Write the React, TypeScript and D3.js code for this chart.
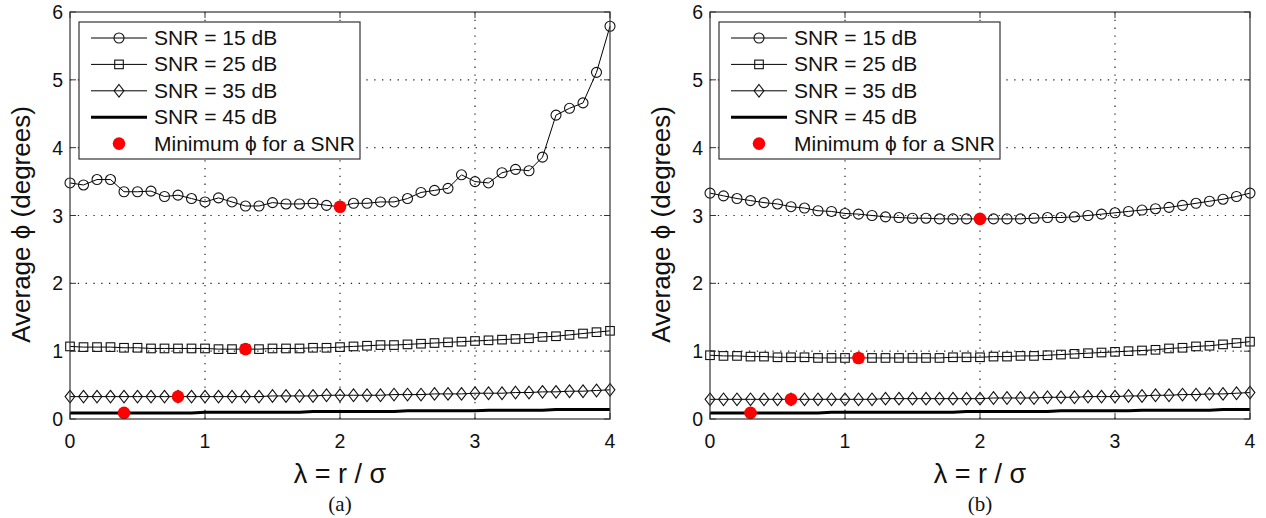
import React from "react";
import * as d3 from "d3";

const lambdaValues: number[] = d3.range(0, 41).map((i) => i / 10);

// Panel (a)
const a_snr15 = [3.48, 3.45, 3.53, 3.53, 3.35, 3.35, 3.36, 3.28, 3.3, 3.25, 3.2, 3.26, 3.2, 3.14, 3.14, 3.19, 3.17, 3.17, 3.18, 3.15, 3.13, 3.18, 3.18, 3.2, 3.2, 3.25, 3.34, 3.37, 3.4, 3.6, 3.5, 3.48, 3.63, 3.68, 3.66, 3.86, 4.48, 4.58, 4.66, 5.11, 5.79];
const a_snr25 = [1.07, 1.06, 1.06, 1.06, 1.05, 1.05, 1.04, 1.04, 1.04, 1.04, 1.04, 1.03, 1.03, 1.03, 1.03, 1.04, 1.04, 1.04, 1.05, 1.05, 1.06, 1.07, 1.08, 1.09, 1.09, 1.1, 1.11, 1.12, 1.13, 1.14, 1.15, 1.16, 1.17, 1.18, 1.19, 1.21, 1.22, 1.24, 1.26, 1.28, 1.3];
const a_snr35 = [0.33, 0.33, 0.33, 0.33, 0.33, 0.33, 0.33, 0.33, 0.33, 0.33, 0.33, 0.33, 0.33, 0.33, 0.33, 0.34, 0.34, 0.34, 0.34, 0.35, 0.35, 0.35, 0.35, 0.35, 0.36, 0.36, 0.36, 0.37, 0.37, 0.37, 0.38, 0.38, 0.38, 0.39, 0.39, 0.4, 0.4, 0.41, 0.41, 0.42, 0.43];
const a_snr45 = [0.09, 0.09, 0.09, 0.09, 0.09, 0.09, 0.09, 0.09, 0.09, 0.09, 0.1, 0.1, 0.1, 0.1, 0.1, 0.1, 0.1, 0.1, 0.11, 0.11, 0.11, 0.11, 0.11, 0.11, 0.11, 0.12, 0.12, 0.12, 0.12, 0.12, 0.12, 0.13, 0.13, 0.13, 0.13, 0.13, 0.14, 0.14, 0.14, 0.14, 0.14];
const a_minimaX = [2.0, 1.3, 0.8, 0.4];
const a_minimaY = [3.13, 1.03, 0.33, 0.09];

// Panel (b)
const b_snr15 = [3.33, 3.29, 3.25, 3.22, 3.19, 3.17, 3.13, 3.11, 3.07, 3.06, 3.03, 3.02, 3.0, 2.98, 2.97, 2.96, 2.96, 2.95, 2.95, 2.95, 2.95, 2.95, 2.95, 2.95, 2.96, 2.97, 2.97, 2.98, 3.0, 3.02, 3.04, 3.06, 3.08, 3.1, 3.12, 3.15, 3.18, 3.21, 3.24, 3.28, 3.33];
const b_snr25 = [0.94, 0.93, 0.93, 0.92, 0.92, 0.91, 0.91, 0.91, 0.9, 0.9, 0.9, 0.9, 0.9, 0.9, 0.9, 0.9, 0.9, 0.9, 0.91, 0.91, 0.91, 0.92, 0.92, 0.93, 0.93, 0.94, 0.95, 0.96, 0.97, 0.98, 0.99, 1.0, 1.01, 1.02, 1.04, 1.05, 1.07, 1.08, 1.1, 1.12, 1.14];
const b_snr35 = [0.29, 0.29, 0.29, 0.29, 0.29, 0.29, 0.29, 0.29, 0.29, 0.29, 0.29, 0.29, 0.29, 0.3, 0.3, 0.3, 0.3, 0.3, 0.3, 0.3, 0.3, 0.31, 0.31, 0.31, 0.31, 0.32, 0.32, 0.32, 0.33, 0.33, 0.33, 0.34, 0.34, 0.35, 0.35, 0.36, 0.36, 0.37, 0.37, 0.38, 0.39];
const b_snr45 = [0.09, 0.09, 0.09, 0.09, 0.09, 0.09, 0.09, 0.09, 0.09, 0.1, 0.1, 0.1, 0.1, 0.1, 0.1, 0.1, 0.1, 0.1, 0.1, 0.11, 0.11, 0.11, 0.11, 0.11, 0.11, 0.11, 0.12, 0.12, 0.12, 0.12, 0.12, 0.12, 0.13, 0.13, 0.13, 0.13, 0.13, 0.13, 0.14, 0.14, 0.14];
const b_minimaX = [2.0, 1.1, 0.6, 0.3];
const b_minimaY = [2.95, 0.9, 0.29, 0.09];

const xTicks = [0, 1, 2, 3, 4];
const yTicks = [0, 1, 2, 3, 4, 5, 6];
const legendLabels = ["SNR = 15 dB", "SNR = 25 dB", "SNR = 35 dB", "SNR = 45 dB", "Minimum \u03D5 for a SNR"];
const panelCaptions = ["(a)", "(b)"];

const FONT = "'Liberation Sans', Arial, Helvetica, sans-serif";
const AXIS = "#333";

type PanelProps = {
  x0: number;
  s15: number[];
  s25: number[];
  s35: number[];
  s45: number[];
  minX: number[];
  minY: number[];
  caption: string;
};

const Marker = ({ kind, cx, cy }: { kind: string; cx: number; cy: number }) => {
  if (kind === "circle")
    return <circle cx={cx} cy={cy} r={5} fill="none" stroke="#111" strokeWidth={1.1} />;
  if (kind === "square")
    return <rect x={cx - 4.3} y={cy - 4.3} width={8.6} height={8.6} fill="none" stroke="#111" strokeWidth={1.1} />;
  if (kind === "diamond")
    return (
      <path
        d={`M${cx},${cy - 6.3}L${cx + 4.9},${cy}L${cx},${cy + 6.3}L${cx - 4.9},${cy}Z`}
        fill="none"
        stroke="#111"
        strokeWidth={1.1}
      />
    );
  return null;
};

const Panel = ({ x0, s15, s25, s35, s45, minX, minY, caption }: PanelProps) => {
  const left = x0;
  const right = x0 + 540;
  const top = 12;
  const bottom = 419;
  const x = d3.scaleLinear().domain([0, 4]).range([left, right]);
  const y = d3.scaleLinear().domain([0, 6]).range([bottom, top]);
  const line = d3
    .line<number>()
    .x((_, i) => x(lambdaValues[i]))
    .y((d) => y(d));

  const series = [
    { data: s15, kind: "circle", w: 1 },
    { data: s25, kind: "square", w: 1 },
    { data: s35, kind: "diamond", w: 1 },
    { data: s45, kind: "none", w: 3 },
  ];

  const legX = left + 9;
  const legY = 22;
  const legW = 281;
  const legH = 137;
  const rowY = (i: number) => legY + 16 + i * 26.4;

  return (
    <g>
      {/* grid */}
      {xTicks.slice(1, -1).map((t) => (
        <line key={"gx" + t} x1={x(t)} x2={x(t)} y1={top} y2={bottom} stroke="#222" strokeWidth={1.2} strokeDasharray="1.3,6.5" />
      ))}
      {yTicks.slice(1, -1).map((t) => (
        <line key={"gy" + t} x1={left} x2={right} y1={y(t)} y2={y(t)} stroke="#222" strokeWidth={1.2} strokeDasharray="1.3,6.5" />
      ))}
      {/* ticks */}
      {xTicks.map((t) => (
        <g key={"tx" + t}>
          <line x1={x(t)} x2={x(t)} y1={bottom} y2={bottom - 6} stroke={AXIS} />
          <line x1={x(t)} x2={x(t)} y1={top} y2={top + 6} stroke={AXIS} />
          <text x={x(t)} y={448} textAnchor="middle" fontFamily={FONT} fontSize={19.5} fill="#111">
            {t}
          </text>
        </g>
      ))}
      {yTicks.map((t) => (
        <g key={"ty" + t}>
          <line x1={left} x2={left + 6} y1={y(t)} y2={y(t)} stroke={AXIS} />
          <line x1={right} x2={right - 6} y1={y(t)} y2={y(t)} stroke={AXIS} />
          <text x={left - 7} y={y(t) + 7} textAnchor="end" fontFamily={FONT} fontSize={19.5} fill="#111">
            {t}
          </text>
        </g>
      ))}
      {/* series */}
      {series.map((s, si) => (
        <g key={"s" + si}>
          <path d={line(s.data) || ""} fill="none" stroke="#000" strokeWidth={s.w} />
          {s.kind !== "none" &&
            s.data.map((v, i) => <Marker key={i} kind={s.kind} cx={x(lambdaValues[i])} cy={y(v)} />)}
        </g>
      ))}
      {/* minima */}
      {minX.map((mx, i) => (
        <circle key={"m" + i} cx={x(mx)} cy={y(minY[i])} r={6.3} fill="#ff0000" />
      ))}
      {/* frame */}
      <rect x={left} y={top} width={right - left} height={bottom - top} fill="none" stroke={AXIS} strokeWidth={1.2} />
      {/* legend */}
      <rect x={legX} y={legY} width={legW} height={legH} fill="#fff" stroke={AXIS} strokeWidth={1.2} />
      {legendLabels.map((lab, i) => {
        const cy = rowY(i);
        const lx1 = legX + 12;
        const lx2 = legX + 68;
        const mx = legX + 40;
        return (
          <g key={"l" + i}>
            {i < 4 && <line x1={lx1} x2={lx2} y1={cy} y2={cy} stroke="#000" strokeWidth={i === 3 ? 3 : 1} />}
            {i === 0 && <Marker kind="circle" cx={mx} cy={cy} />}
            {i === 1 && <Marker kind="square" cx={mx} cy={cy} />}
            {i === 2 && <Marker kind="diamond" cx={mx} cy={cy} />}
            {i === 4 && <circle cx={mx} cy={cy} r={6.3} fill="#ff0000" />}
            <text x={legX + 75} y={cy + 7} fontFamily={FONT} fontSize={21} fill="#111">
              {lab}
            </text>
          </g>
        );
      })}
      {/* axis labels */}
      <text x={(left + right) / 2} y={483} textAnchor="middle" fontFamily={FONT} fontSize={27} fill="#111">
        {"\u03BB = r / \u03C3"}
      </text>
      <text
        transform={`translate(${left - 40},${(top + bottom) / 2 + 9}) rotate(-90)`}
        textAnchor="middle"
        fontFamily={FONT}
        fontSize={26}
        fill="#111"
      >
        {"Average \u03D5 (degrees)"}
      </text>
      <text x={(left + right) / 2} y={511} textAnchor="middle" fontFamily="'Liberation Serif', 'Times New Roman', serif" fontSize={21} fill="#111">
        {caption}
      </text>
    </g>
  );
};

export default function App() {
  return (
    <svg
      width={1266}
      height={518}
      viewBox="0 0 1266 518"
      style={{ position: "absolute", left: 0, top: 0, background: "#fff" }}
    >
      <rect width={1266} height={518} fill="#fff" />
      <Panel x0={70} s15={a_snr15} s25={a_snr25} s35={a_snr35} s45={a_snr45} minX={a_minimaX} minY={a_minimaY} caption={panelCaptions[0]} />
      <Panel x0={710} s15={b_snr15} s25={b_snr25} s35={b_snr35} s45={b_snr45} minX={b_minimaX} minY={b_minimaY} caption={panelCaptions[1]} />
    </svg>
  );
}
